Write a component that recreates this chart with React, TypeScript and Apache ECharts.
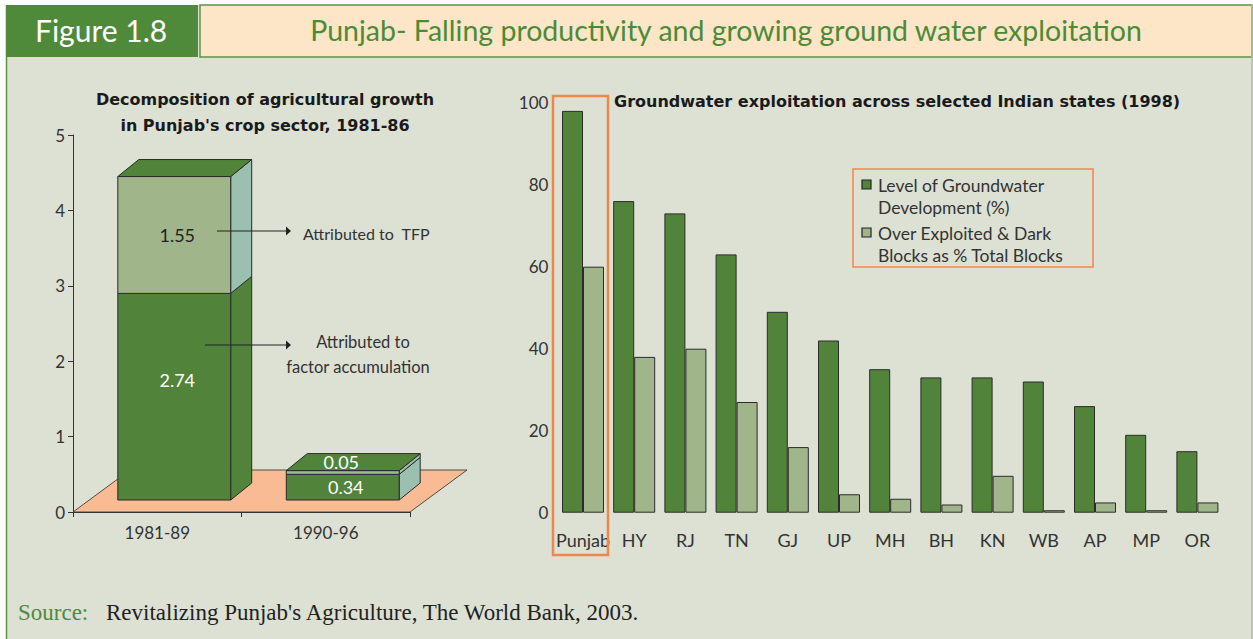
import React, { useEffect, useRef } from 'react';
import * as echarts from 'echarts';

// ---------- data ----------
const periods = ['1981-89', '1990-96'];
const factorAccumulation = [2.74, 0.34];
const tfpContribution = [1.55, 0.05];
const leftTicks = [0, 1, 2, 3, 4, 5];

const states = ['Punjab', 'HY', 'RJ', 'TN', 'GJ', 'UP', 'MH', 'BH', 'KN', 'WB', 'AP', 'MP', 'OR'];
const groundwaterDevelopment = [98, 76, 73, 63, 49, 42, 35, 33, 33, 32, 26, 19, 15];
const overExploitedBlocks = [60, 38, 40, 27, 16, 4.5, 3.4, 2, 9, 0.6, 2.5, 0.6, 2.5];

const seriesNames = ['Level of Groundwater\nDevelopment (%)', 'Over Exploited & Dark\nBlocks as % Total Blocks'];

// ---------- style ----------
const FONT = 'Lato, "Open Sans", sans-serif';
const BOLD = '"DejaVu Sans", Lato, sans-serif';
const SERIF = '"Liberation Serif", "DejaVu Serif", serif';
const DARK = '#51843a';
const LIGHT = '#a1b58a';
const TEAL = '#9cc0b0';
const FLOOR = '#f9bb94';
const EDGE = '#2b2b2b';
const ORANGE = '#f0874a';
const BG = '#dce1d4';
const TEXT = '#333333';

const SHIFT_X = 17;
const SHIFT_Y = -12;
const DEPTH_X = 21;
const DEPTH_Y = -17;
const FLOOR_DX = 57;
const FLOOR_DY = -42;

// segments: [periodIndex, base, top, kind(0=factor,1=tfp), value, isTop]
const segments: number[][] = [];
periods.forEach((_, i) => {
  segments.push([i, 0, factorAccumulation[i], 0, factorAccumulation[i], 0]);
  segments.push([i, factorAccumulation[i], factorAccumulation[i] + tfpContribution[i], 1, tfpContribution[i], 1]);
});

export default function App() {
  const ref = useRef<HTMLDivElement>(null);
  useEffect(() => {
    if (!ref.current) return;
    const chart = echarts.init(ref.current, undefined, { renderer: 'svg' });

    const option: any = {
      animation: false,
      backgroundColor: BG,
      textStyle: { fontFamily: FONT },
      grid: [
        { left: 73, top: 135, width: 337, height: 377 },
        { left: 557.4, top: 102.7, width: 665.6, height: 410 },
      ],
      xAxis: [
        {
          type: 'category', gridIndex: 0, data: periods, z: 5,
          axisLine: { show: true, lineStyle: { color: TEXT, width: 1 } },
          axisTick: { show: true, length: 5, lineStyle: { color: TEXT } },
          axisLabel: { color: TEXT, fontSize: 17, margin: 12, fontFamily: FONT },
        },
        {
          type: 'category', gridIndex: 1, data: states,
          axisLine: { show: false }, axisTick: { show: false },
          axisLabel: { color: TEXT, fontSize: 18, margin: 18, fontFamily: FONT, interval: 0 },
        },
      ],
      yAxis: [
        {
          type: 'value', gridIndex: 0, min: leftTicks[0], max: leftTicks[leftTicks.length - 1], interval: 1, z: 5,
          axisLine: { show: true, lineStyle: { color: TEXT, width: 1 } },
          axisTick: { show: true, length: 5, lineStyle: { color: TEXT } },
          splitLine: { show: false },
          axisLabel: { color: TEXT, fontSize: 17, margin: 8, fontFamily: FONT },
        },
        {
          type: 'value', gridIndex: 1, min: 0, max: 100, interval: 20,
          axisLine: { show: false }, axisTick: { show: false }, splitLine: { show: false },
          axisLabel: { color: TEXT, fontSize: 17, margin: 9, fontFamily: FONT },
        },
      ],
      series: [
        {
          type: 'custom', xAxisIndex: 0, yAxisIndex: 0, z: 1, silent: true,
          data: [[0, 0]],
          renderItem: (params: any) => {
            const c = params.coordSys;
            const yb = c.y + c.height;
            return {
              type: 'polygon',
              shape: { points: [[c.x, yb], [c.x + c.width, yb], [c.x + c.width + FLOOR_DX, yb + FLOOR_DY], [c.x + FLOOR_DX, yb + FLOOR_DY]] },
              style: { fill: FLOOR, stroke: EDGE, lineWidth: 0.8 },
            };
          },
        },
        {
          type: 'custom', xAxisIndex: 0, yAxisIndex: 0, z: 2, silent: true,
          data: segments,
          renderItem: (params: any, api: any) => {
            const cat = api.value(0);
            const base = api.value(1);
            const top = api.value(2);
            const kind = api.value(3);
            const val = api.value(4);
            const isTop = api.value(5);
            const p0 = api.coord([cat, base]);
            const p1 = api.coord([cat, top]);
            const bw = api.size([1, 0])[0] * 0.67;
            const cx = p0[0] + SHIFT_X;
            const x0 = cx - bw / 2;
            const x1 = cx + bw / 2;
            const yb = p0[1] + SHIFT_Y;
            const yt = p1[1] + SHIFT_Y;
            const front = kind === 1 ? LIGHT : DARK;
            const side = kind === 1 || cat === 1 ? TEAL : DARK;
            const children: any[] = [
              {
                type: 'polygon',
                shape: { points: [[x1, yb], [x1 + DEPTH_X, yb + DEPTH_Y], [x1 + DEPTH_X, yt + DEPTH_Y], [x1, yt]] },
                style: { fill: side, stroke: EDGE, lineWidth: 1 },
              },
              {
                type: 'rect',
                shape: { x: x0, y: yt, width: bw, height: yb - yt },
                style: { fill: front, stroke: EDGE, lineWidth: 1 },
              },
            ];
            if (isTop) {
              children.push({
                type: 'polygon',
                shape: { points: [[x0, yt], [x0 + DEPTH_X, yt + DEPTH_Y], [x1 + DEPTH_X, yt + DEPTH_Y], [x1, yt]] },
                style: { fill: DARK, stroke: EDGE, lineWidth: 1 },
              });
            }
            const h = yb - yt;
            const onTop = h < 12;
            const lx = onTop ? cx + DEPTH_X / 2 - 12 : cx + 3;
            const ly = onTop ? yt + DEPTH_Y / 2 : (kind === 0 && h > 100 ? yt + h * 0.42 : yt + h / 2);
            children.push({
              type: 'text',
              x: lx, y: ly,
              style: {
                text: val.toFixed(2), fill: kind === 1 && !onTop ? '#222' : '#ffffff',
                font: `18px ${FONT}`, align: 'center', verticalAlign: 'middle',
              },
            });
            return { type: 'group', children };
          },
        },
        {
          name: seriesNames[0], type: 'bar', xAxisIndex: 1, yAxisIndex: 1,
          data: groundwaterDevelopment, barWidth: 21, barGap: '0%',
          itemStyle: { color: DARK, borderColor: EDGE, borderWidth: 1 },
        },
        {
          name: seriesNames[1], type: 'bar', xAxisIndex: 1, yAxisIndex: 1,
          data: overExploitedBlocks, barWidth: 21, barGap: '0%',
          itemStyle: { color: LIGHT, borderColor: EDGE, borderWidth: 1 },
        },
      ],
      graphic: [
        // frame
        { type: 'rect', shape: { x: 0, y: 0, width: 1253, height: 5 }, style: { fill: '#ffffff' }, z: 10 },
        { type: 'rect', shape: { x: 0, y: 0, width: 6, height: 639 }, style: { fill: '#ffffff' }, z: 10 },
        { type: 'line', shape: { x1: 6.5, y1: 5, x2: 6.5, y2: 639 }, style: { stroke: '#5c9147', lineWidth: 1.5 }, z: 11 },
        { type: 'line', shape: { x1: 1252, y1: 5, x2: 1252, y2: 639 }, style: { stroke: '#a9c49a', lineWidth: 1.5 }, z: 11 },
        // header
        { type: 'rect', shape: { x: 200, y: 5, width: 1052, height: 52 }, style: { fill: '#fde5c7', stroke: '#5c9147', lineWidth: 1.5 }, z: 10 },
        { type: 'rect', shape: { x: 6, y: 5, width: 192, height: 52 }, style: { fill: '#4f8a3b' }, z: 11 },
        {
          type: 'text', x: 35, y: 30, z: 12,
          style: { text: 'Figure 1.8', fill: '#ffffff', font: `30px ${FONT}`, verticalAlign: 'middle' },
        },
        {
          type: 'text', x: 726, y: 30, z: 12,
          style: { text: 'Punjab- Falling productivity and growing ground water exploitation', fill: '#4b8b36', font: `28.5px ${FONT}`, align: 'center', verticalAlign: 'middle' },
        },
        // left chart title
        {
          type: 'text', x: 265, y: 99, z: 12,
          style: { text: 'Decomposition of agricultural growth', fill: '#1a1a1a', font: `bold 16px ${BOLD}`, align: 'center', verticalAlign: 'middle' },
        },
        {
          type: 'text', x: 265, y: 125, z: 12,
          style: { text: "in Punjab's crop sector, 1981-86", fill: '#1a1a1a', font: `bold 16px ${BOLD}`, align: 'center', verticalAlign: 'middle' },
        },
        // annotations
        { type: 'line', shape: { x1: 217, y1: 231, x2: 287, y2: 231 }, style: { stroke: '#222', lineWidth: 1.2 }, z: 12 },
        { type: 'polygon', shape: { points: [[286, 226.5], [291, 231], [286, 235.5]] }, style: { fill: '#222' }, z: 12 },
        { type: 'line', shape: { x1: 205, y1: 345, x2: 287, y2: 345 }, style: { stroke: '#222', lineWidth: 1.2 }, z: 12 },
        { type: 'polygon', shape: { points: [[286, 340.5], [291, 345], [286, 349.5]] }, style: { fill: '#222' }, z: 12 },
        {
          type: 'text', x: 303, y: 233, z: 12,
          style: { text: 'Attributed to  TFP', fill: TEXT, font: `16px ${FONT}`, verticalAlign: 'middle' },
        },
        {
          type: 'text', x: 363, y: 342, z: 12,
          style: { text: 'Attributed to', fill: TEXT, font: `16.5px ${FONT}`, align: 'center', verticalAlign: 'middle' },
        },
        {
          type: 'text', x: 358, y: 367, z: 12,
          style: { text: 'factor accumulation', fill: TEXT, font: `16.5px ${FONT}`, align: 'center', verticalAlign: 'middle' },
        },
        // right chart title
        {
          type: 'text', x: 614, y: 101, z: 12,
          style: { text: 'Groundwater exploitation across selected Indian states (1998)', fill: '#1a1a1a', font: `bold 16px ${BOLD}`, verticalAlign: 'middle' },
        },
        // Punjab highlight
        { type: 'rect', shape: { x: 553, y: 96, width: 55, height: 459 }, style: { fill: 'none', stroke: ORANGE, lineWidth: 2.5 }, z: 12 },
        // legend
        { type: 'rect', shape: { x: 853, y: 169, width: 240, height: 98 }, style: { fill: 'none', stroke: ORANGE, lineWidth: 1.5 }, z: 12 },
        { type: 'rect', shape: { x: 862, y: 180, width: 9, height: 9 }, style: { fill: DARK, stroke: '#222', lineWidth: 1.2 }, z: 12 },
        { type: 'rect', shape: { x: 862, y: 228, width: 9, height: 9 }, style: { fill: LIGHT, stroke: '#222', lineWidth: 1.2 }, z: 12 },
        {
          type: 'text', x: 878, y: 196, z: 12,
          style: { text: seriesNames[0], fill: TEXT, font: `17.5px ${FONT}`, verticalAlign: 'middle', lineHeight: 22 },
        },
        {
          type: 'text', x: 878, y: 244, z: 12,
          style: { text: seriesNames[1], fill: TEXT, font: `17.5px ${FONT}`, verticalAlign: 'middle', lineHeight: 22 },
        },
        // source
        {
          type: 'text', x: 18, y: 612, z: 12,
          style: { text: 'Source:', fill: '#4f8a3b', font: `23px ${SERIF}`, verticalAlign: 'middle' },
        },
        {
          type: 'text', x: 106, y: 612, z: 12,
          style: { text: "Revitalizing Punjab's Agriculture, The World Bank, 2003.", fill: '#222', font: `23px ${SERIF}`, verticalAlign: 'middle' },
        },
      ],
    };
    chart.setOption(option);
    return () => chart.dispose();
  }, []);
  return <div ref={ref} style={{ position: 'absolute', left: 0, top: 0, width: 1253, height: 639 }} />;
}
